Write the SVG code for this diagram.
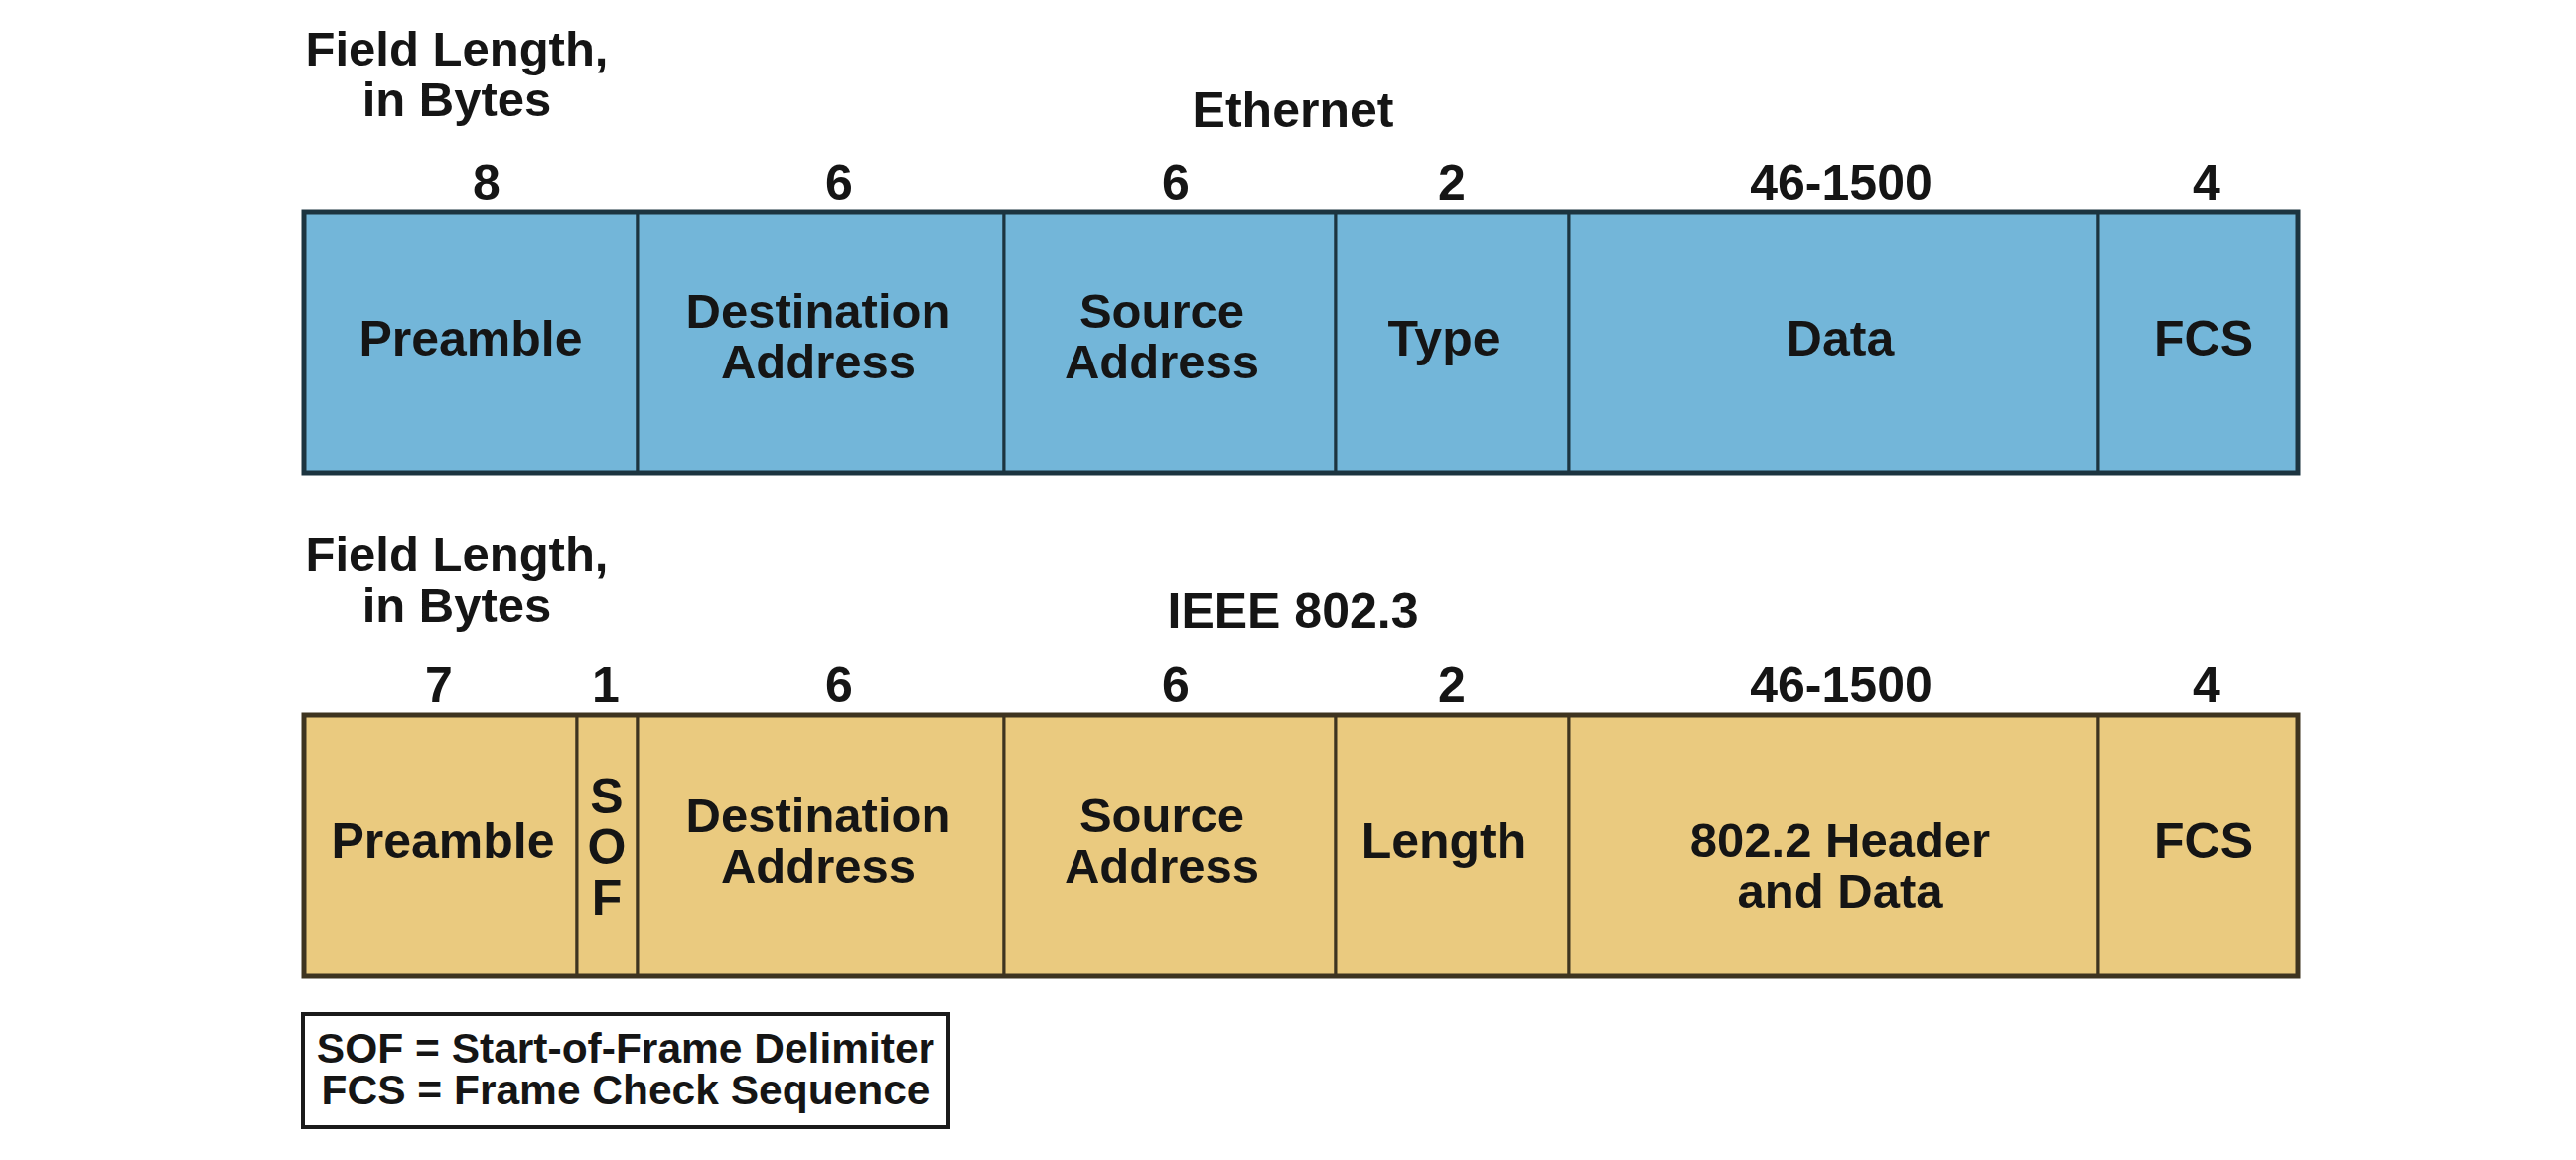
<svg xmlns="http://www.w3.org/2000/svg" width="2594" height="1168" viewBox="0 0 2594 1168">
<style>
text{font-family:"Liberation Sans",Arial,sans-serif;font-weight:bold;fill:#151515;text-anchor:middle}
.t{font-size:50px}
.t2{font-size:49px}
.lg{font-size:42.5px}
.eth{fill:#73b6d9;stroke:#1c3440;stroke-width:3}
.ieee{fill:#eaca7f;stroke:#3e3420;stroke-width:3}
.outE{fill:none;stroke:#1c3440;stroke-width:5}
.outI{fill:none;stroke:#3e3420;stroke-width:5}
</style>
<rect width="2594" height="1168" fill="#ffffff"/>
<g id="labels-top">
<text class="t2" x="460" y="66">Field Length,</text>
<text class="t2" x="460" y="117">in Bytes</text>
<text class="t" x="1302" y="128">Ethernet</text>
<text class="t" x="490" y="201">8</text>
<text class="t" x="845" y="201">6</text>
<text class="t" x="1184" y="201">6</text>
<text class="t" x="1462" y="201">2</text>
<text class="t" x="1854" y="201">46-1500</text>
<text class="t" x="2222" y="201">4</text>
</g>
<g id="eth-preamble"><rect class="eth" x="306" y="213" width="336" height="263"/><text class="t" x="474" y="358">Preamble</text></g>
<g id="eth-dest"><rect class="eth" x="642" y="213" width="369" height="263"/><text class="t2" x="824" y="330">Destination</text><text class="t2" x="824" y="381">Address</text></g>
<g id="eth-src"><rect class="eth" x="1011" y="213" width="334" height="263"/><text class="t2" x="1170" y="330">Source</text><text class="t2" x="1170" y="381">Address</text></g>
<g id="eth-type"><rect class="eth" x="1345" y="213" width="235" height="263"/><text class="t" x="1454" y="358">Type</text></g>
<g id="eth-data"><rect class="eth" x="1580" y="213" width="533" height="263"/><text class="t" x="1853" y="358">Data</text></g>
<g id="eth-fcs"><rect class="eth" x="2113" y="213" width="201" height="263"/><text class="t" x="2219" y="358">FCS</text></g>
<rect class="outE" x="306" y="213" width="2008" height="263"/>
<g id="labels-bottom">
<text class="t2" x="460" y="575">Field Length,</text>
<text class="t2" x="460" y="626">in Bytes</text>
<text class="t" x="1302" y="632">IEEE 802.3</text>
<text class="t" x="442" y="707">7</text>
<text class="t" x="610" y="707">1</text>
<text class="t" x="845" y="707">6</text>
<text class="t" x="1184" y="707">6</text>
<text class="t" x="1462" y="707">2</text>
<text class="t" x="1854" y="707">46-1500</text>
<text class="t" x="2222" y="707">4</text>
</g>
<g id="ieee-preamble"><rect class="ieee" x="306" y="720" width="275" height="263"/><text class="t" x="446" y="864">Preamble</text></g>
<g id="ieee-sof"><rect class="ieee" x="581" y="720" width="61" height="263"/><text class="t" x="611" y="819">S</text><text class="t" x="611" y="870">O</text><text class="t" x="611" y="921">F</text></g>
<g id="ieee-dest"><rect class="ieee" x="642" y="720" width="369" height="263"/><text class="t2" x="824" y="838">Destination</text><text class="t2" x="824" y="889">Address</text></g>
<g id="ieee-src"><rect class="ieee" x="1011" y="720" width="334" height="263"/><text class="t2" x="1170" y="838">Source</text><text class="t2" x="1170" y="889">Address</text></g>
<g id="ieee-length"><rect class="ieee" x="1345" y="720" width="235" height="263"/><text class="t" x="1454" y="864">Length</text></g>
<g id="ieee-data"><rect class="ieee" x="1580" y="720" width="533" height="263"/><text class="t2" x="1853" y="863">802.2 Header</text><text class="t2" x="1853" y="914">and Data</text></g>
<g id="ieee-fcs"><rect class="ieee" x="2113" y="720" width="201" height="263"/><text class="t" x="2219" y="864">FCS</text></g>
<rect class="outI" x="306" y="720" width="2008" height="263"/>
<g id="legend"><rect x="305" y="1021" width="650" height="114" fill="#ffffff" stroke="#1a1a1a" stroke-width="4"/>
<text class="lg" x="630" y="1070">SOF = Start-of-Frame Delimiter</text>
<text class="lg" x="630" y="1112">FCS = Frame Check Sequence</text></g>
<g id="connectors"></g>
</svg>
